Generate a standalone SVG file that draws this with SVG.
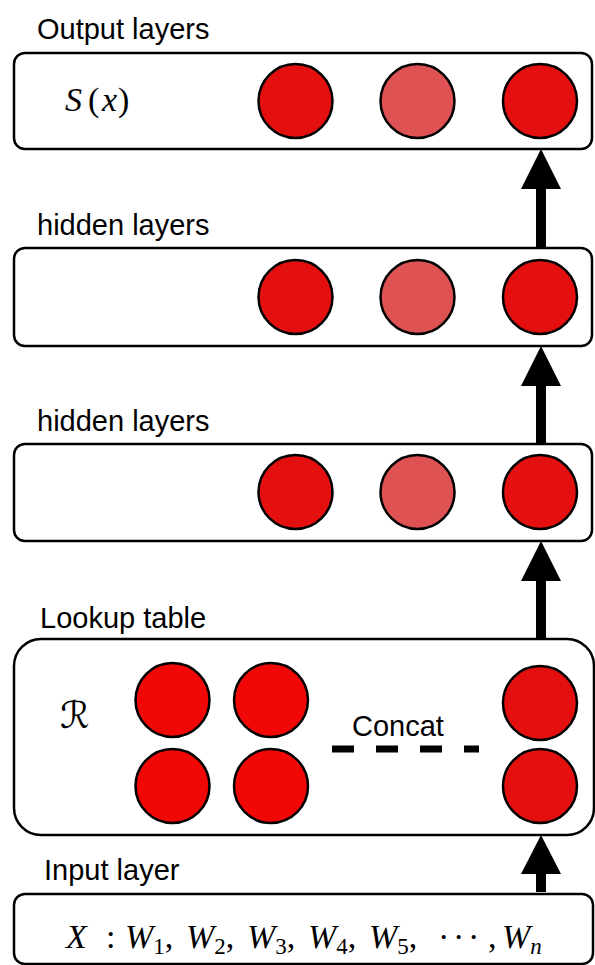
<svg xmlns="http://www.w3.org/2000/svg" width="595" height="965" viewBox="0 0 595 965">
<style>
.box{fill:#fff;stroke:#000;stroke-width:2.5}
.lbl{font-family:"Liberation Sans",Arial,sans-serif;font-size:29px;fill:#000}
.n{stroke:#000;stroke-width:2.5;fill:#E41010}
.nl{stroke:#000;stroke-width:2.5;fill:#DF5254}
.nb{stroke:#000;stroke-width:2.5;fill:#F20707}
.math{font-family:"Liberation Serif","Times New Roman",serif;font-size:34px;fill:#000}
.i{font-style:italic}
.sub{font-size:23px}
.shaft{stroke:#000;stroke-width:10}
</style>
<rect width="595" height="965" fill="#fff"/>
<g id="output">
<text class="lbl" x="37" y="39">Output layers</text>
<rect class="box" x="14" y="53" width="578" height="96" rx="11"/>
<text class="math" y="111" font-size="38"><tspan class="i" x="65">S</tspan><tspan x="88">(</tspan><tspan class="i" x="102">x</tspan><tspan x="118">)</tspan></text>
<circle class="n" cx="295.5" cy="101" r="37"/>
<circle class="nl" cx="417.5" cy="101" r="37"/>
<circle class="n" cx="540" cy="101" r="37"/>
</g>
<g id="hidden1">
<text class="lbl" x="37" y="235">hidden layers</text>
<rect class="box" x="14" y="248" width="578" height="98" rx="11"/>
<circle class="n" cx="295.5" cy="297" r="37"/>
<circle class="nl" cx="417.5" cy="297" r="37"/>
<circle class="n" cx="540" cy="297" r="37"/>
</g>
<g id="hidden2">
<text class="lbl" x="37" y="431">hidden layers</text>
<rect class="box" x="14" y="444" width="578" height="97" rx="11"/>
<circle class="n" cx="295.5" cy="492" r="37"/>
<circle class="nl" cx="417.5" cy="492" r="37"/>
<circle class="n" cx="540" cy="492" r="37"/>
</g>
<g id="lookup">
<text class="lbl" x="40" y="628">Lookup table</text>
<rect class="box" x="14" y="639" width="580" height="196" rx="27"/>
<text x="60" y="728" font-family="DejaVu Serif,DejaVu Sans,serif" font-size="37">ℛ</text>
<circle class="nb" cx="172.5" cy="700" r="37"/>
<circle class="nb" cx="271" cy="700" r="37"/>
<circle class="nb" cx="172.5" cy="786" r="37"/>
<circle class="nb" cx="271" cy="786" r="37"/>
<circle class="n" cx="540" cy="703" r="37"/>
<circle class="n" cx="540" cy="786" r="37"/>
<text class="lbl" x="352" y="736">Concat</text>
<line x1="332" y1="749" x2="479" y2="749" stroke="#000" stroke-width="7" stroke-dasharray="22 22"/>
</g>
<g id="input">
<text class="lbl" x="44" y="880">Input layer</text>
<rect class="box" x="14" y="894" width="579" height="70" rx="11"/>
<text class="math" y="948"><tspan class="i" x="66">X</tspan><tspan x="106">:</tspan><tspan class="i" x="125">W</tspan><tspan class="sub" y="954">1</tspan><tspan y="948">,</tspan><tspan class="i" x="186">W</tspan><tspan class="sub" y="954">2</tspan><tspan y="948">,</tspan><tspan class="i" x="247">W</tspan><tspan class="sub" y="954">3</tspan><tspan y="948">,</tspan><tspan class="i" x="308">W</tspan><tspan class="sub" y="954">4</tspan><tspan y="948">,</tspan><tspan class="i" x="369">W</tspan><tspan class="sub" y="954">5</tspan><tspan y="948">,</tspan><tspan x="438">·</tspan><tspan x="453">·</tspan><tspan x="468">·</tspan><tspan x="488">,</tspan><tspan class="i" x="502">W</tspan><tspan class="sub i" y="954">n</tspan></text>
</g>
<g id="connectors">
<line class="shaft" x1="541" y1="248" x2="541" y2="185"/>
<polygon points="541,149 521,189 561,189"/>
<line class="shaft" x1="541" y1="444" x2="541" y2="382"/>
<polygon points="541,346 521,386 561,386"/>
<line class="shaft" x1="541" y1="639" x2="541" y2="577"/>
<polygon points="541,541 521,581 561,581"/>
<line class="shaft" x1="541" y1="892" x2="541" y2="870"/>
<polygon points="541,835 521,874 561,874"/>
</g>
</svg>
